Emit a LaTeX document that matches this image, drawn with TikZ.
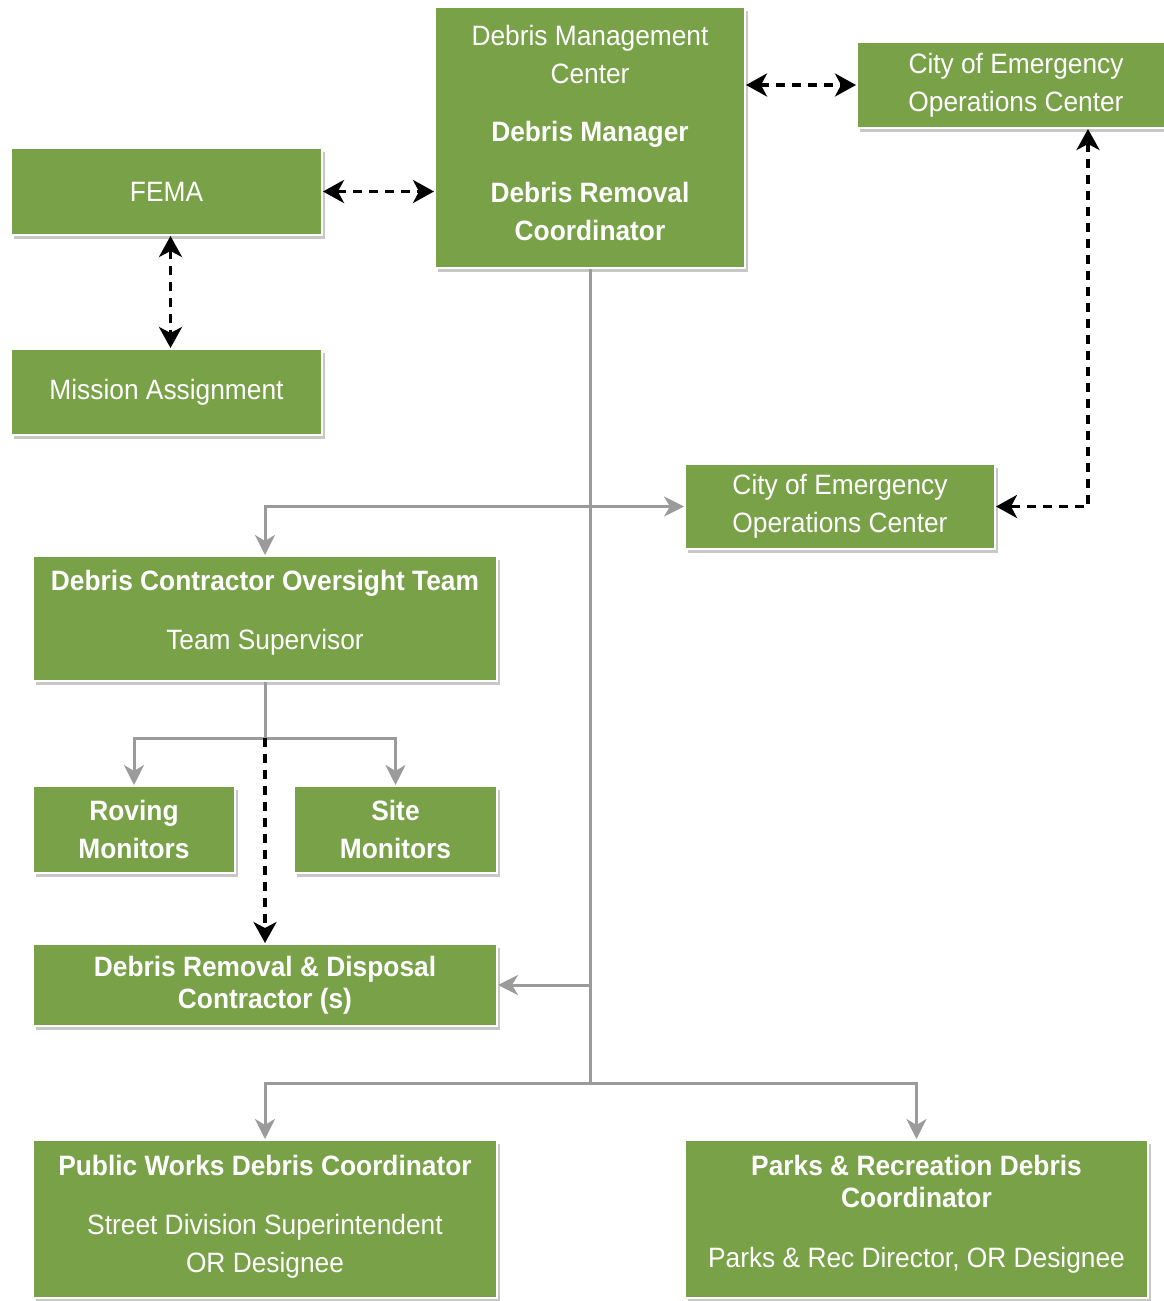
\documentclass[tikz,border=0pt]{standalone}
\usepackage{fontspec}
\setmainfont[FakeStretch=0.94]{Liberation Sans}
\usetikzlibrary{arrows.meta,shadows,calc}
\definecolor{boxgreen}{RGB}{120,161,72}
\definecolor{linegray}{RGB}{155,155,155}
\begin{document}
\begin{tikzpicture}[x=1pt,y=-1pt,
  boxtext/.style={text=white, align=center, inner sep=0pt, font=\fontsize{28}{38}\selectfont},
  box/.style={rectangle, fill=boxgreen, draw=white, line width=2pt, boxtext,
    drop shadow={shadow xshift=3pt, shadow yshift=-4pt, fill=black, opacity=0.22}},
  trunk/.style={draw=linegray, line width=3pt},
  feed/.style={trunk, -{Stealth[length=20pt,width=20pt,inset=6pt]}},
  dlink/.style={draw=black, line width=3.5pt, dash pattern=on 9pt off 7pt,
    -{Stealth[length=21pt,width=23pt,inset=6pt]}},
  biling/.style={dlink, {Stealth[length=21pt,width=23pt,inset=6pt]}-{Stealth[length=21pt,width=23pt,inset=6pt]}}]
\useasboundingbox[fill=white] (0,0) rectangle (1163,1301);

\node[box, minimum width=310, minimum height=261,
  label={[boxtext, yshift=5pt]center:{Debris Management\\Center\\[20pt]\textbf{Debris Manager}\\[23pt]\textbf{Debris Removal}\\\textbf{Coordinator}}}]
  (dmc) at (590,137.5) {};
\node[box, minimum width=318, minimum height=86] (eoc1) at (1016,85)
  {City of Emergency\\Operations Center};
\node[box, minimum width=311, minimum height=87] (fema) at (166.5,191.5) {FEMA};
\node[box, minimum width=311, minimum height=86] (mission) at (166.5,392) {Mission Assignment};
\node[box, minimum width=310, minimum height=85] (eoc2) at (840,506.5)
  {City of Emergency\\Operations Center};
\node[box, minimum width=464, minimum height=125,
  label={[boxtext, yshift=6pt]center:{\textbf{Debris Contractor Oversight Team}\\[21pt]Team Supervisor}}]
  (dcot) at (265,618.5) {};
\node[box, minimum width=202, minimum height=87] (roving) at (134,829.5)
  {\textbf{Roving}\\\textbf{Monitors}};
\node[box, minimum width=203, minimum height=87] (site) at (395.5,829.5)
  {\textbf{Site}\\\textbf{Monitors}};
\node[box, minimum width=464, minimum height=82] (drdc) at (265,985)
  {\textbf{Debris Removal \& Disposal}\\[-6pt]\textbf{Contractor (s)}};
\node[box, minimum width=464, minimum height=158,
  label={[boxtext, yshift=2pt]center:{\textbf{Public Works Debris Coordinator}\\[21pt]Street Division Superintendent\\OR Designee}}]
  (pw) at (265,1219) {};
\node[box, minimum width=463, minimum height=158,
  label={[boxtext, yshift=5pt]center:{\textbf{Parks \& Recreation Debris}\\[-6pt]\textbf{Coordinator}\\[22pt]Parks \& Rec Director, OR Designee}}]
  (parks) at (916.5,1219) {};

\coordinate (j1) at (dmc.south |- eoc2.west);
\coordinate (j2) at (dmc.south |- drdc.east);
\coordinate (j3) at ($(dmc.south)+(0,814)$);
\coordinate (k) at ($(dcot.south)+(0,56)$);
\coordinate (bend) at (1088,503);

\draw[trunk] (dmc.south) -- (j3);
\draw[feed] (j1) -- (eoc2.west);
\draw[feed] (j1) -| (dcot.north);
\draw[feed] (j2) -- (drdc.east);
\draw[feed] (j3) -| (pw.north);
\draw[feed] (j3) -| (parks.north);
\draw[trunk] (dcot.south) -- (k);
\draw[feed] (k) -| (roving.north);
\draw[feed] (k) -| (site.north);
\draw[dlink] (k) -- (drdc.north);

\draw[biling] (eoc1.west -| dmc.east) -- (eoc1.west);
\draw[biling] (fema.east) -- (dmc.west |- fema.east);
\draw[biling] ([xshift=4pt]fema.south) -- ([xshift=4pt]mission.north);
\draw[biling] (eoc1.south -| bend) |- (eoc2.east);
\end{tikzpicture}
\end{document}
